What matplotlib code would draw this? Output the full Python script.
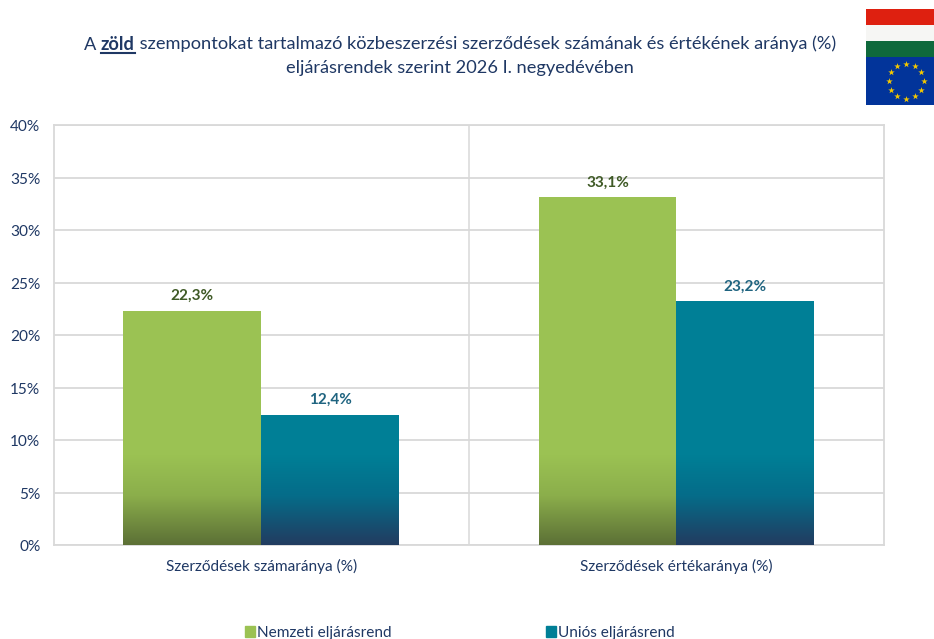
import numpy as np
import matplotlib
matplotlib.use('Agg')
import matplotlib.pyplot as plt
from matplotlib.colors import LinearSegmentedColormap
from matplotlib.patches import Patch
from matplotlib.lines import Line2D
from matplotlib.transforms import ScaledTranslation

plt.rcParams['font.family'] = ['Lato', 'DejaVu Sans']

categories = ['Szerződések számaránya (%)', 'Szerződések értékaránya (%)']
nemzeti = [22.3, 33.1]
unios = [12.4, 23.2]
series_names = ['Nemzeti eljárásrend', 'Uniós eljárásrend']
yticks = [0, 5, 10, 15, 20, 25, 30, 35, 40]

NAVY = '#1f3864'
GRID = '#d9d9d9'
W, H = 934, 639

fig = plt.figure(figsize=(W / 100, H / 100), dpi=100)
ax = fig.add_axes([53.5 / W, 1 - 545 / H, 830.5 / W, 420 / H])

x = np.arange(len(categories))
width = 0.332
bars1 = ax.bar(x - width / 2, nemzeti, width, color='#9bc253', zorder=3)
bars2 = ax.bar(x + width / 2, unios, width, color='#007f96', zorder=3)

# szinatmenet az oszlopok aljan
grad_top = 8.5
cmap1 = LinearSegmentedColormap.from_list('g', [(0, '#5c7036'), (0.55, '#8bae4b'), (1, '#9bc253')])
cmap2 = LinearSegmentedColormap.from_list('t', [(0, '#223c60'), (0.55, '#056c89'), (1, '#007f96')])
ramp = np.linspace(0, 1, 128).reshape(-1, 1)
for bars, cmap in ((bars1, cmap1), (bars2, cmap2)):
    for b in bars:
        im = ax.imshow(ramp, cmap=cmap, origin='lower', aspect='auto', zorder=4,
                       extent=[b.get_x(), b.get_x() + b.get_width(), 0, grad_top])
        im.set_clip_path(b)

ax.set_xlim(-0.5, 1.5)
ax.set_ylim(0, 40)
ax.set_yticks(yticks)
ax.set_yticklabels([f'{v}%' for v in yticks])
ax.set_xticks(x)
ax.set_xticklabels(categories)
ax.tick_params(axis='both', length=0, labelcolor=NAVY, labelsize=11.1)
ax.tick_params(axis='y', pad=9.5)
ax.tick_params(axis='x', pad=10)
ax.grid(axis='y', color=GRID, linewidth=1.3, zorder=0)
ax.axvline(0.5, color=GRID, linewidth=1.1, zorder=0)
for s in ax.spines.values():
    s.set_color(GRID)
    s.set_linewidth(1.3)

# y feliratok kicsit lejjebb
down = ScaledTranslation(0, -0.6 / 100, fig.dpi_scale_trans)
for lab in ax.get_yticklabels():
    lab.set_transform(lab.get_transform() + down)

for b, v in zip(bars1, nemzeti):
    ax.annotate(f'{v:.1f}%'.replace('.', ','), (b.get_x() + b.get_width() / 2, v),
                xytext=(0, 5.5), textcoords='offset points', ha='center', va='bottom',
                color='#3f5a26', fontweight='bold', fontsize=11)
for b, v in zip(bars2, unios):
    ax.annotate(f'{v:.1f}%'.replace('.', ','), (b.get_x() + b.get_width() / 2, v),
                xytext=(0, 5.5), textcoords='offset points', ha='center', va='bottom',
                color='#1f6480', fontweight='bold', fontsize=11)

# cim: a "zold" felkover es alahuzott
parts = [('A ', 'normal'), ('zöld', 'bold'),
         (' szempontokat tartalmazó közbeszerzési szerződések számának és értékének aránya (%)', 'normal')]
renderer = fig.canvas.get_renderer()
title_size = 13.15
widths = []
items = []
for s, w in parts:
    t = fig.text(0, 0, s.replace(' ', '\u00a0'), fontsize=title_size, fontweight=w, color=NAVY,
                 va='baseline', ha='left')
    items.append(t)
    widths.append(t.get_window_extent(renderer).width)
left = 460 - sum(widths) / 2
base_y = 1 - 49.5 / H
for t, wd, (s, w) in zip(items, widths, parts):
    t.set_position((left / W, base_y))
    if w == 'bold':
        fig.add_artist(Line2D([left / W, (left + wd) / W], [base_y - 3 / H] * 2,
                              color=NAVY, linewidth=1.5))
    left += wd
fig.text(460 / W, 1 - 73.5 / H, 'eljárásrendek szerint 2026 I. negyedévében', fontsize=title_size,
         color=NAVY, ha='center', va='baseline')

# jelmagyarazat
handles = [Patch(color='#9bc253'), Patch(color='#007f96')]
leg = fig.legend(handles, series_names, loc='center', bbox_to_anchor=(460 / W, 1 - 633 / H), ncols=2,
                 frameon=False, fontsize=11.1, labelcolor=NAVY, handlelength=0.65, handleheight=0.65,
                 handletextpad=0.15, columnspacing=10.0, borderpad=0)

# zaszlo
flag = fig.add_axes([866 / W, 1 - 105 / H, 68 / W, 96 / H])
flag.set_xlim(0, 68)
flag.set_ylim(96, 0)
flag.axis('off')
flag.axhspan(0, 16, color='#de2010', lw=0)
flag.axhspan(16, 32, color='#f6f6f4', lw=0)
flag.axhspan(32, 48, color='#0f693c', lw=0)
flag.axhspan(48, 96, color='#02349a', lw=0)
ang = np.deg2rad(np.arange(0, 360, 30))
flag.scatter(40 + 17.5 * np.cos(ang), 72 + 17.5 * np.sin(ang), marker='*', s=24, color='#f5c800', lw=0)

fig.savefig('out.png', dpi=100)
